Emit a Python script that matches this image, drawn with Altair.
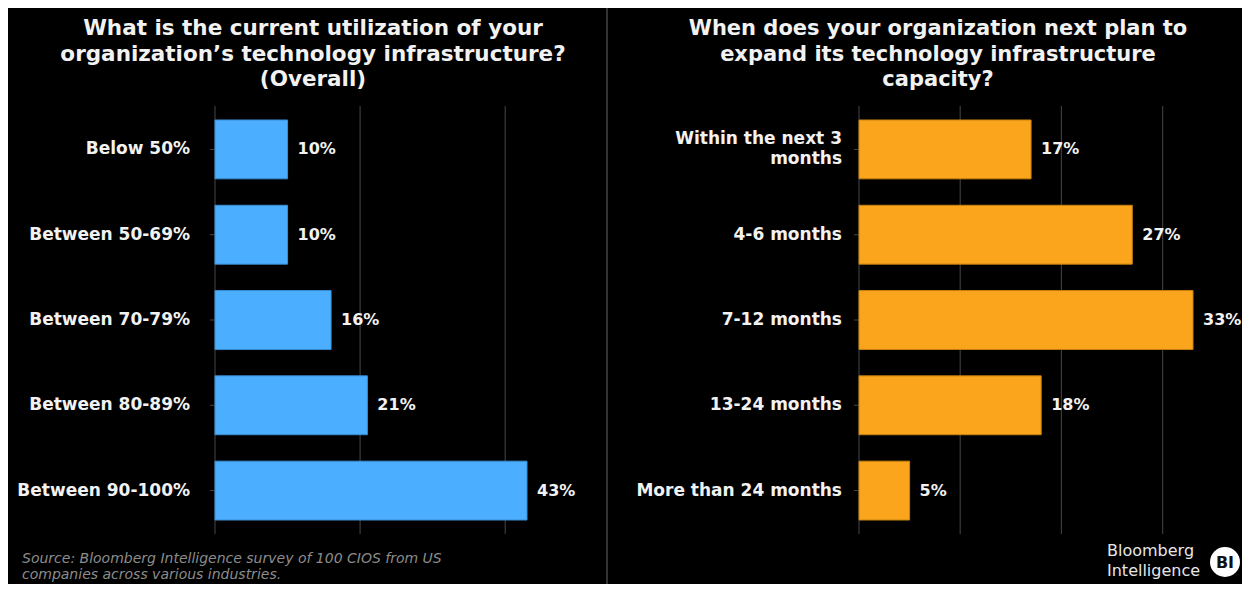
import altair as alt
import pandas as pd

# ---- data ----
left_categories = ["Below 50%", "Between 50-69%", "Between 70-79%", "Between 80-89%", "Between 90-100%"]
left_labels = ["Below 50%", "Between 50-69%", "Between 70-79%", "Between 80-89%", "Between 90-100%"]
left_values = [10, 10, 16, 21, 43]
left_ticks = [0, 20, 40]

right_categories = ["Within the next 3 months", "4-6 months", "7-12 months", "13-24 months", "More than 24 months"]
right_labels = ["Within the next 3\nmonths", "4-6 months", "7-12 months", "13-24 months", "More than 24 months"]
right_values = [17, 27, 33, 18, 5]
right_ticks = [0, 10, 20, 30]

left_title = "What is the current utilization of your\norganization\u2019s technology infrastructure?\n(Overall)"
right_title = "When does your organization next plan to\nexpand its technology infrastructure\ncapacity?"
source_text = "Source: Bloomberg Intelligence survey of 100 CIOS from US\ncompanies across various industries."

FONT = "DejaVu Sans"
W, H = 1234, 576
Y_RANGE = [98, 526]
LABEL_LH = 20


def panel(cats, labels, vals, ticks, color, stroke, x_range, dmax, label_x):
    df = pd.DataFrame({"cat": cats, "label": labels, "value": vals,
                       "text": [f"{v}%" for v in vals]})
    df["nlines"] = [lab.count("\n") + 1 for lab in labels]
    gdf = pd.DataFrame({"tick": ticks})
    xscale = alt.Scale(domain=[0, dmax], range=x_range, nice=False, zero=True)
    yscale = alt.Scale(range=Y_RANGE, paddingInner=0.31, paddingOuter=0.164)
    y = alt.Y("cat:N", sort=cats, scale=yscale, axis=None)
    grid = alt.Chart(gdf).mark_rule(color="#3c3c3c", strokeWidth=1.2).encode(
        x=alt.X("tick:Q", scale=xscale, axis=None),
        y=alt.value(Y_RANGE[0]), y2=alt.value(Y_RANGE[1]))
    bars = alt.Chart(df).mark_bar(color=color, stroke=stroke, strokeWidth=1).encode(
        x=alt.X("value:Q", scale=xscale, axis=None), y=y)
    vtext = alt.Chart(df).mark_text(align="left", baseline="middle", dx=10,
                                    font=FONT, fontSize=16, fontWeight="bold",
                                    color="#f2f2f2").encode(
        x=alt.X("value:Q", scale=xscale, axis=None), y=y, text="text:N")
    ticks_m = alt.Chart(df).mark_rule(color="#444444").encode(
        x=alt.value(x_range[0] - 5), x2=alt.value(x_range[0]), y=y)
    lab_style = dict(align="right", baseline="middle", lineBreak="\n", font=FONT,
                     fontSize=17, fontWeight="bold", lineHeight=LABEL_LH, color="#f2f2f2")
    ltext1 = alt.Chart(df).transform_filter("datum.nlines == 1").mark_text(**lab_style).encode(
        x=alt.value(label_x), y=y, text="label:N")
    ltext2 = alt.Chart(df).transform_filter("datum.nlines == 2").mark_text(
        dy=-LABEL_LH / 2, **lab_style).encode(
        x=alt.value(label_x), y=y, text="label:N")
    return alt.layer(grid, ticks_m, bars, vtext, ltext1, ltext2)


left = panel(left_categories, left_labels, left_values, left_ticks,
             "#4BAEFF", "#3A8FD6", [207, 519], 43, 182)
right = panel(right_categories, right_labels, right_values, right_ticks,
              "#FBA51C", "#C98310", [851, 1185], 33, 834)

tdf = pd.DataFrame({"t": [0]})


def free_text(txt, x, y, **kw):
    return alt.Chart(pd.DataFrame({"t": [txt]})).mark_text(lineBreak="\n", **kw).encode(
        x=alt.value(x), y=alt.value(y), text="t:N")


t_left = free_text(left_title, 305, 10, align="center", baseline="top", font=FONT,
                   fontSize=21.5, fontWeight="bold", lineHeight=25.5, color="#f2f2f2")
t_right = free_text(right_title, 930, 10, align="center", baseline="top", font=FONT,
                    fontSize=21, fontWeight="bold", lineHeight=25.5, color="#f2f2f2")
src = free_text(source_text, 14, 551, align="left", baseline="middle", font=FONT,
                fontSize=14, fontStyle="italic", lineHeight=16, color="#8c8c8c")
logo_t = free_text("Bloomberg\nIntelligence", 1099, 543, align="left", baseline="middle",
                   font=FONT, fontSize=16, lineHeight=20, color="#e6e6e6")
logo_c = alt.Chart(tdf).mark_point(shape="circle", filled=True, color="white",
                                   opacity=1, size=900).encode(
    x=alt.value(1217), y=alt.value(554))
logo_bi = free_text("BI", 1217, 555, align="center", baseline="middle", font=FONT,
                    fontSize=16, fontWeight="bold", color="#111111")
divider = alt.Chart(tdf).mark_rule(color="#333333", strokeWidth=2).encode(
    x=alt.value(599), y=alt.value(0), y2=alt.value(H))

chart = alt.layer(divider, left, right, t_left, t_right, src, logo_t, logo_c, logo_bi).resolve_scale(
    x="independent", y="independent"
).properties(
    width=W, height=H, padding=0, background="black",
    autosize=alt.AutoSizeParams(type="none")
).configure_view(strokeWidth=0)

chart.save("out.html", embed_options={"renderer": "svg", "actions": False})
